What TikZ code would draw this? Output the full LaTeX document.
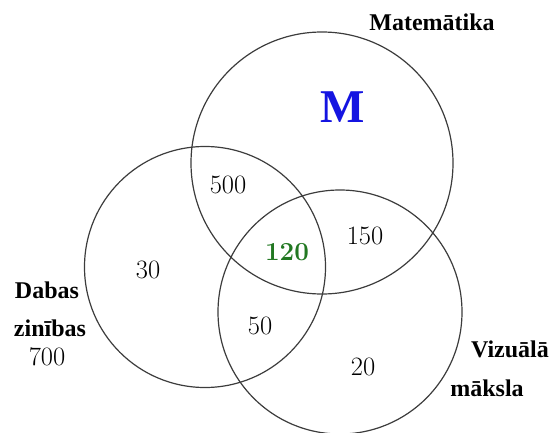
\documentclass[tikz,border=0pt]{standalone}
\usepackage{fontspec}
\newfontfamily\labfont{Liberation Serif}
\definecolor{numgreen}{RGB}{34,120,34}
\definecolor{mblue}{RGB}{20,20,225}
\definecolor{ringcol}{RGB}{60,60,60}
\begin{document}
\begin{tikzpicture}[x=1pt,y=-1pt,
  ring/.style={draw=ringcol,line width=1.2pt},
  num/.style={font=\fontsize{26.5}{30}\selectfont,inner sep=0pt},
  lab/.style={font=\labfont\bfseries\fontsize{24}{28}\selectfont,inner sep=0pt}]
\useasboundingbox (0,0) rectangle (551,433);
\draw[ring] (322,163) circle (131);
\draw[ring] (205,267) circle (120.5);
\draw[ring] (340,312) circle (122);
\node[lab] (mat) at (432,22) {Matemātika};
\node[font=\labfont\bfseries\fontsize{47}{50}\selectfont,text=mblue,inner sep=0pt] (m) at (343,107) {M};
\node[num] (n500) at (228,185) {500};
\node[num,text=numgreen,font=\bfseries\fontsize{26}{30}\selectfont] (n120) at (287,252) {120};
\node[num] (n150) at (365,236) {150};
\node[num] (n30) at (148,270) {30};
\node[num] (n50) at (260,326) {50};
\node[num] (n20) at (363,367) {20};
\node[lab] (dab) at (47,290) {Dabas};
\node[lab] (zin) at (50,328) {zinības};
\node[num] (n700) at (47,357) {700};
\node[lab] (viz) at (510,349) {Vizuālā};
\node[lab] (mak) at (487,388) {māksla};
\end{tikzpicture}
\end{document}
